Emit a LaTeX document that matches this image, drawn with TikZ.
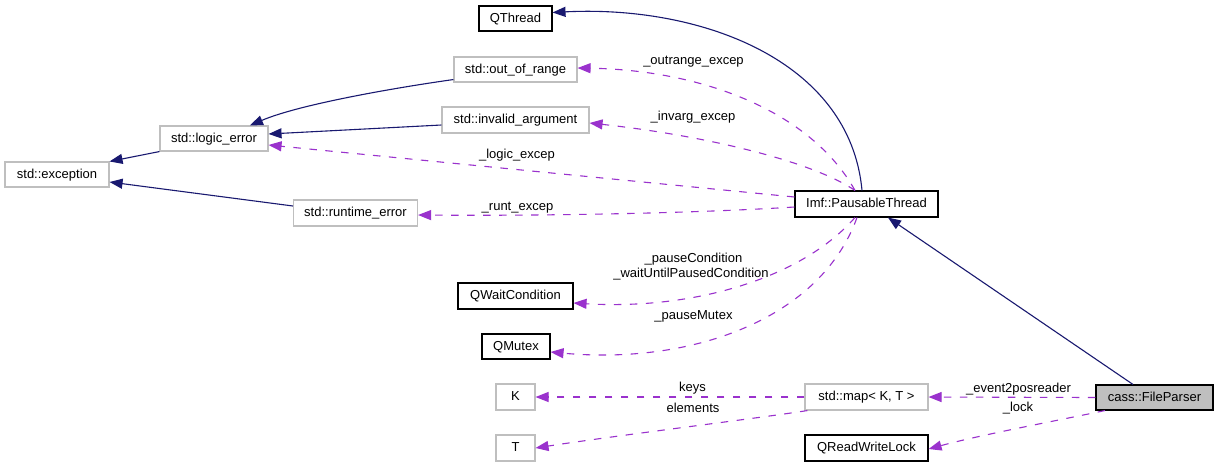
\documentclass[tikz,border=0pt]{standalone}
\usepackage{fontspec}
\setmainfont{Liberation Sans}
\usetikzlibrary{arrows.meta,calc}
\definecolor{edgeblue}{HTML}{191970}
\definecolor{edgepurple}{HTML}{9A32CD}
\definecolor{greyseventyfive}{HTML}{BFBFBF}
\begin{document}
\begin{tikzpicture}[x=1pt,y=-1pt,
  box/.style={draw=black, rectangle, inner sep=0pt, line width=1.1pt,
    font=\fontsize{13}{15}\selectfont, text height=9.5pt, text depth=2.5pt},
  greybox/.style={box, draw=greyseventyfive},
  lbl/.style={inner sep=0pt, font=\fontsize{13}{15}\selectfont, text height=9.5pt, text depth=2.5pt},
  inherit/.style={draw=edgeblue, line width=1.1pt, -{Triangle[length=13pt,width=10pt]}},
  usage/.style={draw=edgepurple, line width=1.1pt, dash pattern=on 7.5pt off 8.5pt, -{Triangle[length=13pt,width=10pt]}}
]
\fill[white] (0,0) rectangle (1219,467);
\useasboundingbox (0,0) rectangle (1219,467);

% nodes
\node[greybox, minimum width=104pt, minimum height=25pt] (exc) at (57,174.5) {std::exception};
\node[greybox, minimum width=108pt, minimum height=25pt] (logic) at (214,138.5) {std::logic\_error};
\node[greybox, minimum width=124pt, minimum height=26pt] (runtime) at (355.5,213) {std::runtime\_error};
\node[box, minimum width=73pt, minimum height=25pt] (qthread) at (515.5,18.5) {QThread};
\node[greybox, minimum width=123pt, minimum height=25pt] (oor) at (515.5,69.5) {std::out\_of\_range};
\node[greybox, minimum width=147pt, minimum height=26pt] (inv) at (515.5,120) {std::invalid\_argument};
\node[box, minimum width=143pt, minimum height=26pt] (paus) at (866.5,204) {Imf::PausableThread};
\node[box, fill=greyseventyfive, minimum width=117pt, minimum height=25pt] (fp) at (1154.5,397.5) {cass::FileParser};
\node[greybox, minimum width=123pt, minimum height=26pt] (map) at (866.5,397) {std::map< K, T >};
\node[box, minimum width=123pt, minimum height=26pt] (rwl) at (866.5,448) {QReadWriteLock};
\node[box, minimum width=115pt, minimum height=26pt] (qwc) at (515.5,296) {QWaitCondition};
\node[box, minimum width=68pt, minimum height=25pt] (qmx) at (516,346.5) {QMutex};
\node[greybox, minimum width=39pt, minimum height=26pt] (K) at (515.5,397) {K};
\node[greybox, minimum width=39pt, minimum height=26pt] (T) at (515.5,448) {T};

% inheritance edges
\draw[inherit] ($(paus.north)+(-4.5,0)$) .. controls (850,60) and (700,5) .. ($(qthread.east)+(0,-6)$);
\draw[inherit] ($(fp.north)+(-21.5,0)$) -- ($(paus.south)+(21.5,0)$);
\draw[inherit] (logic.south west) -- (exc.north east);
\draw[inherit] ($(runtime.west)+(0,-7)$) -- ($(exc.east)+(0,7.5)$);
\draw[inherit] ($(oor.south west)+(0,-3)$) .. controls (400,87) and (300,104) .. ($(logic.north)+(36,0)$);
\draw[inherit] ($(inv.west)+(0,5)$) -- ($(logic.east)+(0,-4.5)$);

% usage edges
\draw[usage] ($(paus.north)+(-11.5,0)$) .. controls (810,110) and (700,70) .. ($(oor.east)+(0,-1.5)$);
\draw[usage] ($(paus.north)+(-11.5,0)$) .. controls (810,160) and (700,135) .. ($(inv.east)+(0,3)$);
\draw[usage] ($(paus.west)+(0,-7)$) -- ($(logic.east)+(0,6.5)$);
\draw[usage] ($(paus.west)+(0,3)$) .. controls (700,213) and (550,216) .. ($(runtime.east)+(0,2)$);
\draw[usage] ($(paus.south)+(-11.5,0)$) .. controls (800,280) and (690,310) .. ($(qwc.east)+(0,7)$);
\draw[usage] ($(paus.south)+(-9.5,0)$) .. controls (820,320) and (690,365) .. ($(qmx.east)+(0,5.5)$);
\draw[usage] (fp.west) -- (map.east);
\draw[usage] ($(fp.south)+(-49.5,0)$) .. controls (1060,420) and (980,435) .. ($(rwl.east)+(0,1)$);
\draw[usage] (map.west) -- (K.east);
\draw[usage] ($(map.south west)+(3,0)$) .. controls (760,418) and (620,435) .. (T.east);

% labels
\node[lbl] (l1) at (693.5,61) {\_outrange\_excep};
\node[lbl] (l2) at (693,117) {\_invarg\_excep};
\node[lbl] (l3) at (517,155) {\_logic\_excep};
\node[lbl] (l4) at (517.5,207) {\_runt\_excep};
\node[lbl] (l5) at (693.5,259) {\_pauseCondition};
\node[lbl] (l6) at (691,274) {\_waitUntilPausedCondition};
\node[lbl] (l7) at (693.5,316) {\_pauseMutex};
\node[lbl] (l8) at (692.5,388) {keys};
\node[lbl] (l9) at (693,409) {elements};
\node[lbl] (l10) at (1018.5,389) {\_event2posreader};
\node[lbl] (l11) at (1018,408) {\_lock};
\end{tikzpicture}
\end{document}
